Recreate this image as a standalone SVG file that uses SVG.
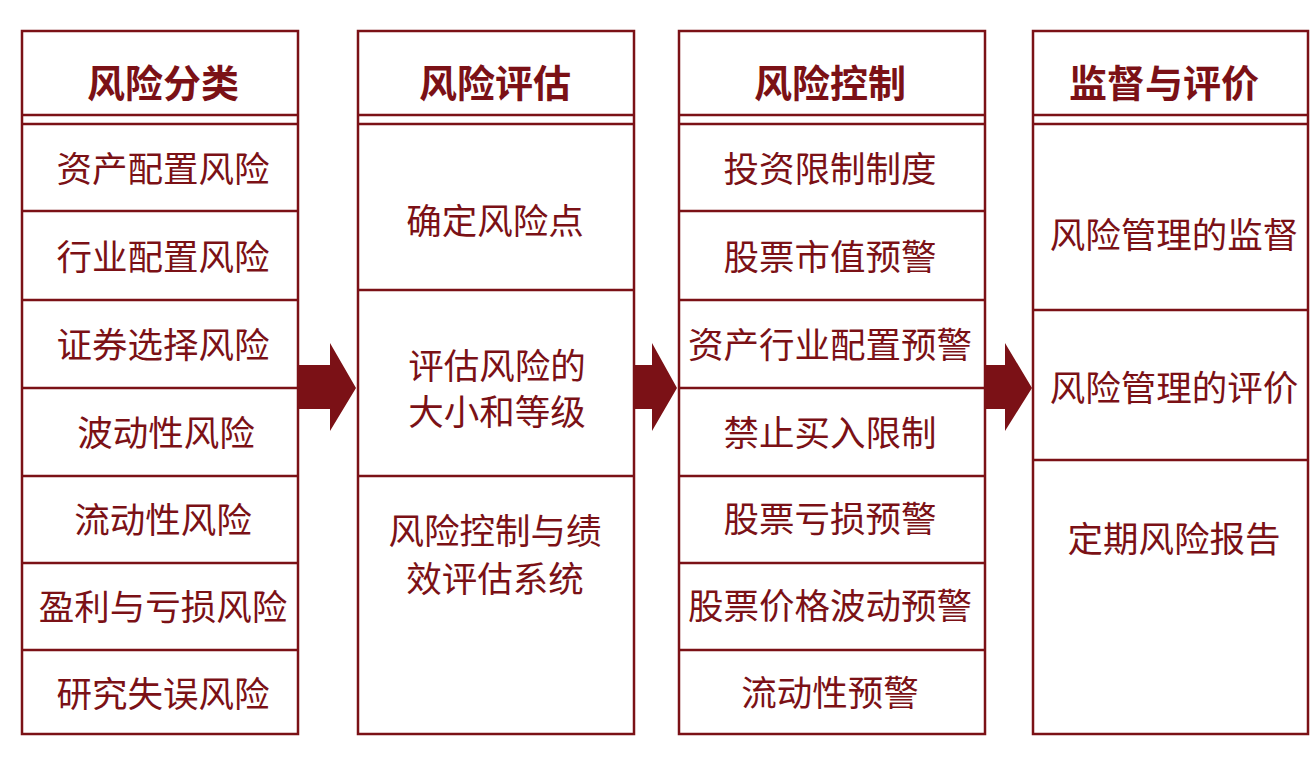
<svg xmlns="http://www.w3.org/2000/svg" width="1314" height="765" viewBox="0 0 1314 765">
<style>
.box{fill:#fff;stroke:#7b1116;stroke-width:2.5}
.ln{stroke:#7b1116;stroke-width:2.5;fill:none}
.hd{font-family:"Noto Sans CJK SC","Noto Sans",sans-serif;font-size:38px;font-weight:bold;fill:#7b1116;text-anchor:middle;dominant-baseline:central}
.tx{font-family:"Noto Sans CJK SC","Noto Sans",sans-serif;font-size:35.5px;fill:#7b1116;text-anchor:middle;dominant-baseline:central}
.arr{fill:#7b1116}
</style>
<rect width="1314" height="765" fill="#fff"/>
<g id="col-classify">
<rect class="box" x="22" y="31" width="276" height="703"/>
<line class="ln" x1="22" y1="115" x2="298" y2="115"/>
<line class="ln" x1="22" y1="124" x2="298" y2="124"/>
<line class="ln" x1="22" y1="211" x2="298" y2="211"/>
<line class="ln" x1="22" y1="300" x2="298" y2="300"/>
<line class="ln" x1="22" y1="388" x2="298" y2="388"/>
<line class="ln" x1="22" y1="476" x2="298" y2="476"/>
<line class="ln" x1="22" y1="563" x2="298" y2="563"/>
<line class="ln" x1="22" y1="650" x2="298" y2="650"/>
<text class="hd" x="163" y="80">风险分类</text>
<text class="tx" x="163" y="166">资产配置风险</text>
<text class="tx" x="163" y="254">行业配置风险</text>
<text class="tx" x="163" y="342">证券选择风险</text>
<text class="tx" x="166" y="430">波动性风险</text>
<text class="tx" x="163" y="517">流动性风险</text>
<text class="tx" x="163" y="604">盈利与亏损风险</text>
<text class="tx" x="163" y="691">研究失误风险</text>
</g>
<g id="col-assess">
<rect class="box" x="358" y="31" width="276" height="703"/>
<line class="ln" x1="358" y1="115" x2="634" y2="115"/>
<line class="ln" x1="358" y1="124" x2="634" y2="124"/>
<line class="ln" x1="358" y1="290" x2="634" y2="290"/>
<line class="ln" x1="358" y1="476" x2="634" y2="476"/>
<text class="hd" x="495" y="80">风险评估</text>
<text class="tx" x="495" y="218">确定风险点</text>
<text class="tx" x="497" y="363">评估风险的</text>
<text class="tx" x="497" y="409">大小和等级</text>
<text class="tx" x="495" y="528">风险控制与绩</text>
<text class="tx" x="495" y="576">效评估系统</text>
</g>
<g id="col-control">
<rect class="box" x="679" y="31" width="306" height="703"/>
<line class="ln" x1="679" y1="115" x2="985" y2="115"/>
<line class="ln" x1="679" y1="124" x2="985" y2="124"/>
<line class="ln" x1="679" y1="211" x2="985" y2="211"/>
<line class="ln" x1="679" y1="300" x2="985" y2="300"/>
<line class="ln" x1="679" y1="388" x2="985" y2="388"/>
<line class="ln" x1="679" y1="476" x2="985" y2="476"/>
<line class="ln" x1="679" y1="563" x2="985" y2="563"/>
<line class="ln" x1="679" y1="650" x2="985" y2="650"/>
<text class="hd" x="830" y="80">风险控制</text>
<text class="tx" x="830" y="166">投资限制制度</text>
<text class="tx" x="830" y="254">股票市值预警</text>
<text class="tx" x="830" y="342">资产行业配置预警</text>
<text class="tx" x="830" y="430">禁止买入限制</text>
<text class="tx" x="830" y="516">股票亏损预警</text>
<text class="tx" x="830" y="603">股票价格波动预警</text>
<text class="tx" x="830" y="690">流动性预警</text>
</g>
<g id="col-supervise">
<rect class="box" x="1033" y="31" width="275" height="703"/>
<line class="ln" x1="1033" y1="115" x2="1308" y2="115"/>
<line class="ln" x1="1033" y1="124" x2="1308" y2="124"/>
<line class="ln" x1="1033" y1="310" x2="1308" y2="310"/>
<line class="ln" x1="1033" y1="460" x2="1308" y2="460"/>
<text class="hd" x="1164" y="80">监督与评价</text>
<text class="tx" x="1174" y="232">风险管理的监督</text>
<text class="tx" x="1174" y="385">风险管理的评价</text>
<text class="tx" x="1174" y="536">定期风险报告</text>
</g>
<g id="connectors">
<polygon class="arr" points="298,365 330,365 330,343 356,388 330,431 330,409 298,409"/>
<polygon class="arr" points="634,365 652,365 652,343 677,388 652,431 652,409 634,409"/>
<polygon class="arr" points="985,365 1005,365 1005,343 1032,388 1005,431 1005,409 985,409"/>
</g>
</svg>
